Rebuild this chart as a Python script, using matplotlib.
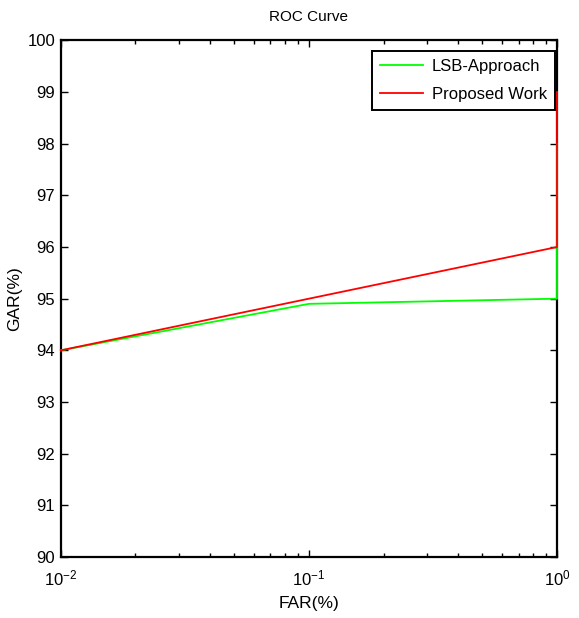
import matplotlib
matplotlib.use("Agg")
import matplotlib.pyplot as plt
import matplotlib.ticker as mticker

plt.rcParams['font.family'] = ['Liberation Sans', 'DejaVu Sans']
plt.rcParams['mathtext.default'] = 'regular'

# data
far = [0.01, 0.1, 1.0, 1.0]
gar_lsb = [94.0, 94.9, 95.0, 98.0]
gar_proposed = [94.0, 95.0, 96.0, 99.0]
xtick_vals = [0.01, 0.1, 1.0]
xtick_labels = ['$10^{-2}$', '$10^{-1}$', '$10^{0}$']

fig = plt.figure(figsize=(5.79, 6.18), dpi=100)
ax = fig.add_axes([0.105, 0.0987, 0.857, 0.836])

ax.plot(far, gar_lsb, color='#00ff00', lw=1.3, label='LSB-Approach', clip_on=False, zorder=3)
ax.plot(far, gar_proposed, color='#ff0000', lw=1.3, label='Proposed Work', clip_on=False, zorder=3)

ax.set_xscale('log')
ax.set_xlim(0.01, 1)
ax.set_ylim(90, 100)
ax.set_yticks(range(90, 101))
ax.set_xticks(xtick_vals)
ax.set_xticklabels(xtick_labels)
ax.xaxis.set_minor_locator(mticker.LogLocator(base=10, subs=range(2, 10)))
ax.xaxis.set_minor_formatter(mticker.NullFormatter())

ax.tick_params(which='both', direction='in', top=True, right=True, labelsize=12, width=1)
ax.tick_params(which='major', length=5)
ax.tick_params(which='minor', length=3)
ax.tick_params(axis='x', pad=8)
ax.tick_params(axis='y', pad=4)
for s in ax.spines.values():
    s.set_linewidth(1.6)
    s.set_zorder(2)

ax.set_title('ROC Curve', fontsize=11, pad=14)
ax.set_xlabel('FAR(%)', fontsize=12.5, labelpad=6)
ax.set_ylabel('GAR(%)', fontsize=12.5)
ax.yaxis.set_label_coords(-0.078, 0.5)

leg = ax.legend(loc='upper right', fontsize=12, fancybox=False, edgecolor='black',
                framealpha=1, borderaxespad=0, handlelength=2.6, labelspacing=0.75,
                handletextpad=0.5, borderpad=0.5,
                bbox_to_anchor=(555 / 579, 1 - 51 / 618), bbox_transform=fig.transFigure)
leg.get_frame().set_linewidth(1.4)
leg.set_zorder(5)

plt.savefig('out.png', dpi=100)
